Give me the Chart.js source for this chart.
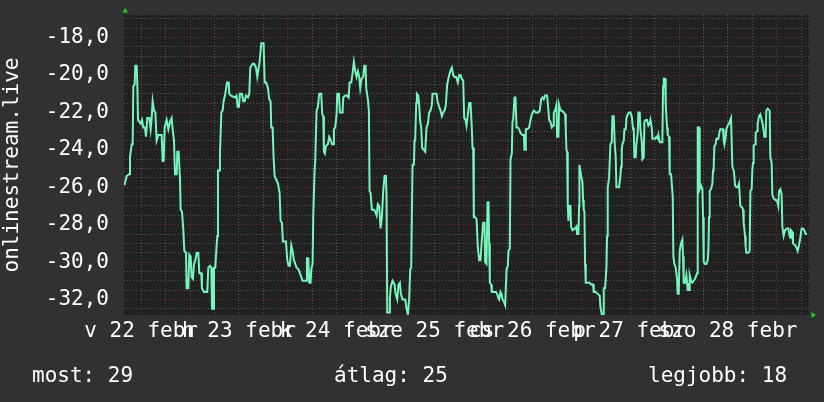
<!DOCTYPE html>
<html><head><meta charset="utf-8">
<script src="https://cdn.jsdelivr.net/npm/chart.js@4/dist/chart.umd.min.js"></script>
<style>html,body{margin:0;padding:0;background:#313131;}canvas{display:block;}</style>
</head><body>
<canvas id="c" width="824" height="402"></canvas>
<script>
// time in hours since 2015-02-22 00:00 (local), values as plotted
const hours = [
7.9,8.45,9.03,9.27,9.68,9.93,10.09,10.42,10.58,10.91,11.07,11.24,11.56,11.89,12.22,12.54,12.95,13.2,13.52,14.02,
14.34,14.59,14.83,15.16,15.49,15.81,16.22,17.04,17.29,17.53,17.78,18.27,18.68,19.09,19.49,19.74,20.07,20.31,20.72,20.88,
21.21,21.54,21.7,22.03,22.36,22.6,23.01,23.17,23.58,23.83,24.15,24.4,24.73,24.97,25.3,25.63,26.03,26.28,26.77,26.93,
27.42,28.24,28.49,28.9,29.22,29.39,29.71,29.88,30.2,30.45,30.7,30.86,31.19,31.35,31.68,32.0,32.25,32.66,33.07,33.48,
33.64,34.05,35.03,35.44,35.68,36.01,36.26,36.75,37.07,37.4,37.73,38.22,38.54,38.79,39.36,39.77,40.18,40.51,
41.08,41.49,42.06,42.31,42.71,43.12,43.45,43.78,43.94,44.27,44.51,44.76,45.17,45.58,45.99,46.23,46.56,46.8,47.54,47.87,
48.19,48.52,48.85,49.17,49.5,49.83,50.15,50.65,51.3,51.63,52.53,52.69,53.02,53.26,53.59,53.75,54.08,54.24,54.57,54.73,
55.06,55.39,55.71,56.2,56.45,56.7,56.86,57.1,57.35,57.84,58.17,58.58,58.82,59.15,59.31,59.64,59.97,60.13,60.54,60.78,
61.44,61.6,62.09,62.5,62.91,63.16,63.56,63.89,64.22,64.55,64.87,65.2,65.53,65.77,66.1,66.51,66.75,67.08,67.24,67.65,
67.9,68.06,68.31,68.63,69.12,69.45,69.78,70.1,70.43,70.76,71.09,71.41,71.74,72.07,72.23,72.4,72.89,73.05,73.29,73.7,
74.19,74.44,
74.85,75.17,75.5,75.75,76.16,76.81,77.14,77.46,77.79,78.04,78.28,78.61,78.94,79.1,79.26,79.51,79.67,80.0,80.24,80.49,
80.73,80.98,81.39,81.72,82.04,82.37,82.7,83.02,83.35,83.51,84.5,84.74,85.15,85.48,85.8,86.13,86.46,86.78,87.11,87.6,
88.01,88.26,88.58,88.91,89.32,89.73,90.06,90.38,90.71,91.04,91.28,91.61,91.85,92.18,92.51,92.84,93.16,93.33,93.49,93.65,
93.98,94.31,94.63,94.96,95.29,95.62,95.94,96.27,96.43,96.76,97.01,97.25,97.41,97.58,97.9,98.07,99.05,99.38,99.62,99.87,
100.19,100.44,100.68,101.01,101.34,101.67,101.99,102.16,102.48,102.65,102.97,103.14,103.3,103.63,103.87,104.12,104.45,104.77,105.1,105.59,
105.92,106.08,106.24,106.41,106.74,107.23,107.55,107.88,108.37,
108.85,109.18,109.5,109.83,110.16,110.49,110.81,111.14,111.63,111.96,112.12,112.45,112.78,113.1,113.27,113.59,113.92,114.08,114.41,114.57,
114.9,115.23,115.72,116.05,116.21,116.37,116.54,116.7,116.86,117.03,117.35,117.52,117.84,118.5,118.83,118.99,119.32,119.48,119.56,119.97,
120.3,120.46,120.62,120.79,120.95,121.12,121.61,122.1,122.42,122.91,123.08,123.57,124.06,124.55,124.71,125.04,125.37,125.53,125.86,126.19,
126.35,126.51,126.84,127.17,127.49,127.66,127.98,128.23,128.47,128.64,129.29,129.62,129.78,129.95,130.11,130.44,130.6,130.93,131.09,131.42,
131.75,132.07,132.4,132.73,132.89,133.05,133.38,133.54,133.87,134.03,134.36,134.52,134.85,135.02,135.34,135.51,135.83,136.16,136.49,136.81,
136.98,137.3,137.47,138.12,138.45,138.78,138.94,139.27,139.92,140.09,140.25,140.58,140.74,140.9,141.07,141.23,141.56,141.72,142.05,
142.46,142.62,142.86,143.19,143.52,143.68,143.93,144.17,144.5,144.83,144.99,145.15,145.48,145.81,145.97,146.13,146.46,146.63,146.95,147.28,
147.61,147.93,148.26,148.42,148.59,148.91,149.08,149.41,149.73,149.9,150.06,150.39,150.71,151.04,151.2,151.37,151.53,151.86,152.19,152.35,
152.51,152.68,153.0,153.17,153.66,153.98,154.15,154.8,154.97,155.13,155.46,155.62,155.95,156.27,156.6,156.77,156.93,157.09,157.42,157.58,
157.75,158.07,158.4,158.73,158.89,159.05,159.54,159.71,159.87,160.2,160.36,160.53,161.02,161.34,161.51,161.83,161.99,162.16,162.32,162.65,
162.81,163.14,163.3,163.63,163.96,164.29,164.61,164.94,165.27,165.43,165.76,166.25,166.41,166.74,166.9,167.23,167.72,168.05,168.37,168.54,
168.87,169.19,169.36,169.68,170.01,170.5,170.83,171.15,171.32,171.48,171.81,171.97,172.46,172.79,173.12,173.44,173.77,174.1,174.43,174.75,
175.08,175.41
];
const values = [
-25.9,-25.4,-25.3,-24.4,-23.7,-23.7,-20.6,-20.5,-19.5,-19.5,-20.5,-22.4,-22.5,-22.6,-22.4,-22.8,-22.8,-23.3,-22.3,-22.3,
-22.9,-22.3,-21.4,-21.9,-22.0,-23.5,-23.2,-23.2,-24.6,-24.6,-22.8,-22.4,-22.9,-22.5,-22.3,-22.9,-23.5,-25.3,-25.3,-24.1,
-24.1,-25.6,-27.2,-27.3,-28.3,-29.4,-29.5,-31.4,-31.4,-29.6,-29.7,-30.8,-30.9,-30.1,-29.9,-29.5,-29.5,-30.6,-30.6,-31.4,
-31.6,-31.6,-30.3,-30.2,-30.3,-32.5,-32.5,-30.3,-30.3,-29.4,-28.6,-25.1,-25.1,-24.2,-22.0,-21.9,-21.4,-21.0,-20.4,-20.4,
-21.0,-21.1,-21.2,-21.1,-21.7,-21.7,-21.0,-21.0,-21.4,-21.4,-21.1,-21.2,-21.0,-19.6,-19.4,-19.4,-19.6,-20.1,
-19.3,-18.3,-18.3,-20.4,-20.4,-20.7,-21.3,-21.4,-22.8,-22.8,-24.4,-25.4,-25.6,-25.8,-26.3,-27.8,-27.9,-28.9,-28.9,-29.9,
-30.2,-30.2,-29.1,-29.4,-29.9,-30.1,-30.3,-30.4,-30.8,-31.0,-31.0,-29.8,-29.8,-31.1,-31.1,-30.4,-30.1,-27.6,-25.1,-24.6,
-21.9,-21.7,-21.0,-21.0,-22.1,-22.2,-24.1,-24.2,-23.8,-23.7,-23.3,-23.5,-23.7,-23.7,-22.9,-22.8,-22.1,-21.0,-21.0,-22.0,
-22.0,-21.2,-21.1,-21.1,-21.2,-20.4,-20.4,-19.9,-19.3,-19.8,-20.1,-19.8,-20.1,-20.7,-20.2,-20.1,-19.5,-19.5,-20.7,-21.3,
-21.9,-26.2,-26.3,-27.2,-27.2,-27.3,-27.5,-26.9,-27.0,-28.2,-27.6,-26.2,-25.4,-25.4,-26.5,-32.7,-32.7,-31.9,-31.3,-31.0,
-31.2,-31.7,
-32.0,-31.2,-31.1,-31.7,-32.0,-32.0,-32.5,-32.8,-31.9,-30.4,-30.3,-24.8,-24.8,-23.5,-23.5,-21.5,-21.0,-21.1,-21.6,-22.5,
-22.8,-23.9,-24.0,-24.1,-22.8,-22.6,-22.0,-21.9,-21.6,-21.0,-21.0,-21.4,-21.7,-21.9,-22.2,-22.0,-21.9,-21.6,-20.5,-20.0,
-19.7,-19.6,-20.0,-20.1,-20.1,-20.4,-20.0,-20.0,-20.2,-20.3,-22.3,-22.4,-22.7,-22.1,-21.5,-21.5,-22.9,-23.9,-23.9,-27.6,
-27.6,-27.7,-29.2,-29.9,-29.9,-28.8,-27.9,-27.9,-30.0,-30.1,-26.8,-26.8,-29.0,-31.1,-31.2,-31.6,-31.6,-31.7,-31.9,-32.0,
-31.6,-31.7,-32.0,-32.1,-32.3,-30.4,-30.2,-29.4,-29.3,-24.5,-24.2,-22.5,-22.4,-21.2,-21.2,-22.8,-22.8,-22.9,-23.1,-23.2,
-23.2,-24.0,-24.0,-22.9,-22.9,-22.8,-22.4,-22.1,-21.9,
-22.0,-22.0,-22.0,-21.9,-21.3,-21.2,-21.3,-21.1,-21.1,-21.9,-22.4,-22.5,-22.8,-22.7,-22.0,-21.9,-21.6,-23.3,-23.3,-21.6,
-21.9,-21.9,-22.0,-22.1,-22.9,-24.0,-24.1,-26.9,-27.8,-27.0,-27.0,-28.1,-28.3,-28.2,-28.1,-28.5,-28.5,-27.0,-24.8,-25.4,
-25.7,-26.7,-27.2,-27.3,-30.1,-31.1,-31.1,-31.1,-31.2,-31.2,-31.6,-31.6,-31.7,-31.8,-32.4,-32.8,-32.8,-31.4,-31.4,-30.3,
-28.6,-26.0,-25.5,-23.7,-23.6,-22.2,-22.2,-23.7,-24.4,-26.0,-26.0,-25.4,-24.9,-24.0,-23.7,-23.5,-22.9,-22.9,-22.3,-22.1,
-22.0,-22.0,-22.2,-22.9,-22.8,-24.4,-24.4,-23.7,-23.1,-22.0,-22.0,-22.9,-23.5,-24.5,-24.4,-22.5,-22.4,-22.4,-22.7,-22.6,
-22.4,-22.8,-23.4,-23.4,-23.3,-23.4,-23.2,-23.6,-23.6,-20.6,-20.2,-20.2,-21.6,-22.2,-22.8,-23.2,-23.3,-25.3,-25.3,
-26.5,-29.7,-30.1,-30.3,-30.9,-31.7,-31.7,-29.4,-29.0,-28.8,-29.7,-31.1,-31.1,-30.7,-31.1,-31.5,-31.5,-30.7,-31.0,-31.1,
-31.0,-30.9,-30.7,-30.6,-22.8,-22.8,-26.1,-25.9,-26.1,-27.6,-30.0,-30.1,-30.1,-29.9,-29.4,-27.6,-26.2,-26.1,-25.8,-25.1,
-24.9,-23.8,-23.7,-23.4,-23.4,-23.0,-22.9,-22.9,-23.5,-23.7,-23.3,-22.9,-22.7,-22.6,-22.4,-22.3,-22.3,-24.9,-25.1,-25.4,
-25.9,-26.0,-26.0,-25.8,-25.8,-27.0,-27.1,-27.2,-27.9,-28.6,-29.2,-29.5,-29.5,-29.4,-26.2,-26.1,-25.1,-24.7,-23.8,-23.7,
-23.1,-23.0,-22.6,-22.2,-22.1,-22.4,-22.7,-23.3,-23.3,-21.9,-21.8,-21.9,-24.4,-24.7,-26.4,-26.6,-26.7,-26.7,-27.0,-26.2,
-26.1,-26.4,-28.1,-28.6,-28.3,-28.2,-28.2,-28.6,-28.7,-28.3,-28.4,-29.0,-29.1,-29.2,-29.4,-29.1,-28.7,-28.2,-28.2,-28.3,
-28.5,-28.5
];
const dayLabels = ['v 22 febr','h 23 febr','k 24 febr','sze 25 febr','cs 26 febr','p 27 febr','szo 28 febr'];
const footerLabels = ['most: 29','átlag: 25','legjobb: 18'];
const yTitle = 'onlinestream.live';

const FONT = '"DejaVu Sans Mono", monospace';
const points = hours.map((h, i) => ({x: h, y: values[i]}));
const GRID_MINOR = '#575757';
const GRID_MAJOR = '#7a3030';

const decor = {
  id: 'decor',
  beforeDraw(chart) {
    const {ctx, chartArea: a} = chart;
    ctx.save();
    ctx.fillStyle = '#313131';
    ctx.fillRect(0, 0, chart.width, chart.height);
    ctx.fillStyle = '#212121';
    ctx.fillRect(a.left, a.top, a.right - a.left, a.bottom - a.top);
    ctx.restore();
  },
  afterDraw(chart) {
    const {ctx, chartArea: a} = chart;
    ctx.save();
    ctx.fillStyle = '#22cc22';
    ctx.beginPath();
    ctx.moveTo(a.left - 1.5, a.top - 2.5);
    ctx.lineTo(a.left + 4, a.top - 2.5);
    ctx.lineTo(a.left + 1.2, a.top - 7);
    ctx.closePath(); ctx.fill();
    ctx.beginPath();
    ctx.moveTo(a.right + 2.5, a.bottom - 3);
    ctx.lineTo(a.right + 2.5, a.bottom + 3);
    ctx.lineTo(a.right + 7, a.bottom);
    ctx.closePath(); ctx.fill();
    ctx.fillStyle = '#ffffff';
    ctx.font = '21px ' + FONT;
    ctx.textBaseline = 'alphabetic';
    ctx.textAlign = 'left';
    ctx.fillText(footerLabels[0], 32, 382);
    ctx.fillText(footerLabels[1], 334, 382);
    ctx.fillText(footerLabels[2], 648, 382);
    ctx.restore();
  }
};

new Chart(document.getElementById('c'), {
  type: 'line',
  data: {datasets: [{data: points, borderColor: '#76f5bc', borderWidth: 2, pointRadius: 0, tension: 0, fill: false}]},
  options: {
    responsive: false, animation: false, devicePixelRatio: 1,
    layout: {padding: {left: 0, top: 15, right: 15, bottom: 42}},
    plugins: {legend: {display: false}, tooltip: {enabled: false}},
    scales: {
      x: {
        type: 'linear', min: 7.8, max: 175.9,
        afterFit(s) { s.height = 45; s.paddingLeft = 0; s.paddingRight = 0; },
        ticks: {
          stepSize: 6, includeBounds: false, autoSkip: false, maxRotation: 0, minRotation: 0,
          maxTicksLimit: 1000, padding: 4, color: '#ffffff', font: {family: FONT, size: 21},
          callback(v) {
            const r = Math.round(v);
            if (((r % 24) + 24) % 24 !== 12) return '';
            return dayLabels[Math.floor(r / 24)] || '';
          }
        },
        grid: {
          color(ctx) { const r = Math.round(ctx.tick ? ctx.tick.value : 1); return (r % 24 === 0) ? GRID_MAJOR : GRID_MINOR; },
          lineWidth: 1, drawTicks: false
        },
        border: {display: false, dash: [1, 2]}
      },
      y: {
        type: 'linear', min: -32.83, max: -16.79,
        afterFit(s) { s.width = 124; s.paddingTop = 0; s.paddingBottom = 0; },
        ticks: {
          stepSize: 0.5, includeBounds: false, autoSkip: false, maxTicksLimit: 1000,
          padding: 15, color: '#ffffff', font: {family: FONT, size: 21},
          callback(v) {
            const r = Math.round(v * 2) / 2;
            if (Math.abs(r % 2) > 1e-6) return '';
            return r.toFixed(1).replace('.', ',');
          }
        },
        grid: {
          color(ctx) { const v = ctx.tick ? ctx.tick.value : 0.5; return Math.abs(v % 2) < 1e-6 ? GRID_MAJOR : GRID_MINOR; },
          lineWidth: 1, drawTicks: false
        },
        border: {display: false, dash: [1, 2]},
        title: {display: true, text: yTitle, color: '#ffffff', font: {family: FONT, size: 21}, padding: {top: 0, bottom: 0}}
      }
    }
  },
  plugins: [decor]
});
</script>
</body></html>
